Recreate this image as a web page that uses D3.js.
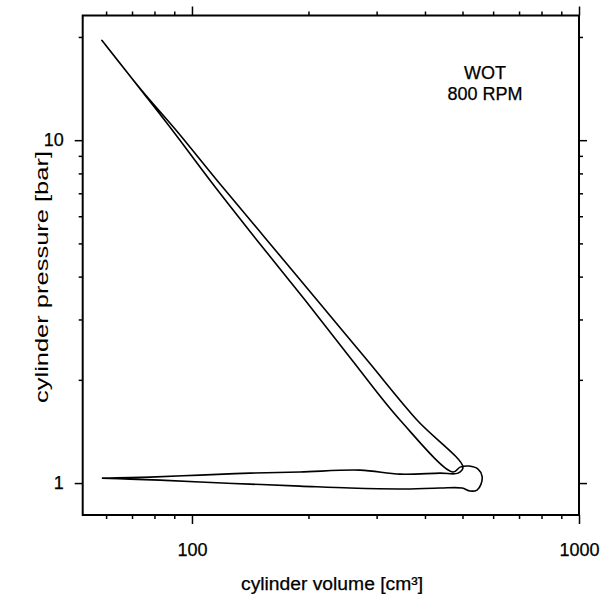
<!DOCTYPE html>
<html>
<head>
<meta charset="utf-8">
<script src="https://cdn.jsdelivr.net/npm/d3@7"></script>
<style>
  body { margin: 0; background: #fff; }
  text { font-family: "Liberation Sans", Arial, Helvetica, sans-serif; fill: #000; stroke: #000; stroke-width: 0.25px; }
</style>
</head>
<body>
<svg id="chart" width="602" height="594"></svg>
<script>
(function(d3) {
    'use strict';

    // log p-V loop (volume cm3, pressure bar)
    var intakeV = [58.5, 69.2, 82.7, 104.9, 141.2, 190.1, 256.1, 344.7, 437.4, 498.7, 522.9, 545.2, 558.3, 561.6, 548.4, 519.8, 492.8];
    var intakeP = [1.034, 1.027, 1.020, 1.007, 0.993, 0.980, 0.967, 0.961, 0.967, 0.967, 0.948, 0.954, 0.993, 1.048, 1.098, 1.121, 1.113];

    var compressionV = [472.6, 344.7, 259.0, 195.9, 147.2, 111.3, 89.0, 73.9, 58.5];
    var compressionP = [1.077, 1.527, 2.284, 3.417, 5.11, 7.645, 10.69, 13.99, 19.56];

    var expansionV = [74.1, 91.0, 116.0, 156.3, 210.4, 283.4, 381.4, 501.4];
    var expansionP = [13.99, 10.69, 7.645, 5.11, 3.417, 2.284, 1.527, 1.113];

    var exhaustV = [486.9, 437.4, 344.7, 271.8, 190.1, 141.2, 104.9, 77.9, 58.5];
    var exhaustP = [1.069, 1.069, 1.062, 1.091, 1.077, 1.069, 1.055, 1.041, 1.034];

    var xMajor = [100, 1000];
    var xMinor = [60, 70, 80, 90, 200, 300, 400, 500, 600, 700, 800, 900];
    var yMajor = [1, 10];
    var yMinor = [2, 3, 4, 5, 6, 7, 8, 9, 20];

    var frame = {left: 82.7, right: 579, top: 15.5, bottom: 515};

    var svg = d3.select('#chart');

    var x = d3.scaleLog().domain([52.2, 1000]).range([frame.left, frame.right]);
    var y = d3.scaleLog().domain([0.807, 23.1]).range([frame.bottom, frame.top]);

    function addAxis(axis, tx, ty) {
        var g = svg.append('g')
            .attr('transform', 'translate(' + tx + ',' + ty + ')')
            .call(axis);
        g.select('.domain').remove();
        g.selectAll('.tick line').attr('stroke', '#000').attr('stroke-width', 1.5);
        g.selectAll('.tick text')
            .style('font-size', '18px')
            .style('font-family', '"Liberation Sans", Arial, sans-serif');
        return g;
    }

    // bottom
    addAxis(d3.axisBottom(x).tickValues(xMajor).tickSize(9).tickPadding(19).tickFormat(d3.format('d')), 0, frame.bottom);
    addAxis(d3.axisBottom(x).tickValues(xMinor).tickSize(4).tickFormat(''), 0, frame.bottom);
    // top
    addAxis(d3.axisTop(x).tickValues(xMajor).tickSize(9).tickFormat(''), 0, frame.top);
    addAxis(d3.axisTop(x).tickValues(xMinor).tickSize(4).tickFormat(''), 0, frame.top);
    // left
    addAxis(d3.axisLeft(y).tickValues(yMajor).tickSize(8).tickPadding(11).tickFormat(d3.format('d')), frame.left, 0);
    addAxis(d3.axisLeft(y).tickValues(yMinor).tickSize(4).tickFormat(''), frame.left, 0);
    // right
    addAxis(d3.axisRight(y).tickValues(yMajor).tickSize(8).tickFormat(''), frame.right, 0);
    addAxis(d3.axisRight(y).tickValues(yMinor).tickSize(4).tickFormat(''), frame.right, 0);

    svg.append('rect')
        .attr('x', frame.left)
        .attr('y', frame.top)
        .attr('width', frame.right - frame.left)
        .attr('height', frame.bottom - frame.top)
        .attr('fill', 'none')
        .attr('stroke', '#000')
        .attr('stroke-width', 2);

    var loopV = intakeV.concat(compressionV, expansionV, exhaustV);
    var loopP = intakeP.concat(compressionP, expansionP, exhaustP);
    var loop = loopV.map(function(v, i) { return [v, loopP[i]]; });

    var line = d3.line()
        .x(function(d) { return x(d[0]); })
        .y(function(d) { return y(d[1]); })
        .curve(d3.curveCatmullRom.alpha(0.5));

    svg.append('path')
        .datum(loop)
        .attr('d', line)
        .attr('fill', 'none')
        .attr('stroke', '#000')
        .attr('stroke-width', 1.6)
        .attr('stroke-linejoin', 'round');

    svg.append('text')
        .attr('x', 485)
        .attr('y', 79)
        .attr('text-anchor', 'middle')
        .style('font-size', '18px')
        .text('WOT');

    svg.append('text')
        .attr('x', 485)
        .attr('y', 100)
        .attr('text-anchor', 'middle')
        .style('font-size', '18px')
        .text('800 RPM');

    svg.append('text')
        .attr('x', 332)
        .attr('y', 590)
        .attr('text-anchor', 'middle')
        .attr('textLength', 182)
        .attr('lengthAdjust', 'spacingAndGlyphs')
        .style('font-size', '18px')
        .text('cylinder volume [cm³]');

    svg.append('text')
        .attr('transform', 'translate(48,277) rotate(-90)')
        .attr('text-anchor', 'middle')
        .attr('textLength', 252)
        .attr('lengthAdjust', 'spacingAndGlyphs')
        .style('font-size', '18px')
        .style('stroke-width', '0px')
        .text('cylinder pressure [bar]');
}(d3));
</script>
</body>
</html>
